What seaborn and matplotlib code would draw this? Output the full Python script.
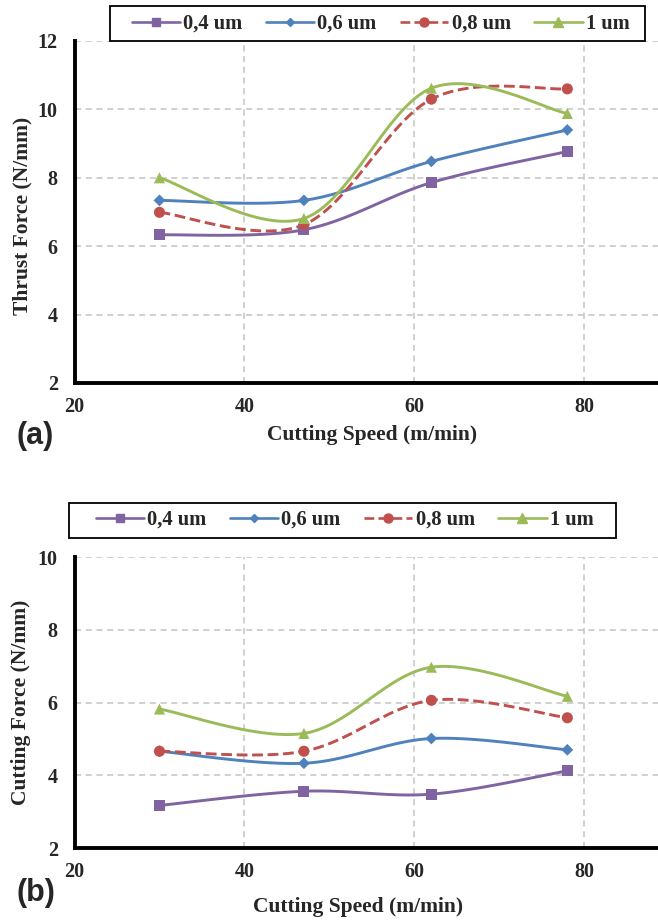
import numpy as np
import pandas as pd
import matplotlib
matplotlib.use("Agg")
import matplotlib.pyplot as plt
from matplotlib.lines import Line2D
from matplotlib.patches import Rectangle
import seaborn as sns

# ---- data -------------------------------------------------------------
speed = [30, 47, 62, 78]
series_names = ["0,4 um", "0,6 um", "0,8 um", "1 um"]

thrust_04 = [6.33, 6.48, 7.86, 8.77]
thrust_06 = [7.34, 7.34, 8.48, 9.40]
thrust_08 = [6.99, 6.63, 10.30, 10.60]
thrust_10 = [8.00, 6.81, 10.62, 9.88]

cutting_04 = [3.17, 3.56, 3.48, 4.12]
cutting_06 = [4.66, 4.33, 5.01, 4.70]
cutting_08 = [4.66, 4.66, 6.06, 5.58]
cutting_10 = [5.82, 5.15, 6.97, 6.17]

x_ticks = [20, 40, 60, 80]
thrust_yticks = [2, 4, 6, 8, 10, 12]
cutting_yticks = [2, 4, 6, 8, 10]

colors = ["#8064A2", "#4F81BD", "#C0504D", "#9BBB59"]
markers = ["s", "D", "o", "^"]
msizes = [8, 6, 8, 8]
legend_msizes = [6, 4.5, 6.5, 7]
dashes = ["-", "-", "--", "-"]

# ---- style ------------------------------------------------------------
sns.set_theme(style="white")
plt.rcParams["font.family"] = ["Liberation Serif", "DejaVu Serif"]
plt.rcParams["font.weight"] = "bold"


def smooth(xs, ys, n=40):
    """Catmull-Rom style Bezier smoothing through the points."""
    pts = np.column_stack([xs, ys]).astype(float)
    out = []
    m = len(pts)
    for i in range(m - 1):
        p0 = pts[i - 1] if i > 0 else pts[i]
        p1 = pts[i]
        p2 = pts[i + 1]
        p3 = pts[i + 2] if i + 2 < m else pts[i + 1]
        c1 = p1 + (p2 - p0) / 6.0
        c2 = p2 - (p3 - p1) / 6.0
        t = np.linspace(0, 1, n)[:, None]
        seg = ((1 - t) ** 3) * p1 + 3 * ((1 - t) ** 2) * t * c1 \
            + 3 * (1 - t) * t ** 2 * c2 + t ** 3 * p2
        out.append(seg if i == 0 else seg[1:])
    return np.vstack(out)


def draw_panel(ax, series, yticks):
    for name, ys, c, mk, ms, ls in zip(series_names, series, colors,
                                       markers, msizes, dashes):
        curve = smooth(speed, ys)
        df = pd.DataFrame({"x": curve[:, 0], "y": curve[:, 1]})
        sns.lineplot(data=df, x="x", y="y", ax=ax, sort=False,
                     estimator=None, color=c, lw=2.1, linestyle=ls,
                     zorder=3)
        pts = pd.DataFrame({"x": speed, "y": ys})
        sns.scatterplot(data=pts, x="x", y="y", ax=ax, color=c,
                        marker=mk, s=ms ** 2, edgecolor="none", zorder=4)
    ax.set_xlim(20, 88.67)
    ax.set_ylim(yticks[0], yticks[-1])
    ax.set_xticks(x_ticks)
    ax.set_yticks(yticks)
    ax.set_xticklabels([str(v) for v in x_ticks])
    ax.set_yticklabels([str(v) for v in yticks])
    for v in x_ticks[1:]:
        ax.axvline(v, color="#c4c4c4", lw=1.1, ls=(0, (4, 3)), zorder=1)
    for v in yticks[1:]:
        ax.axhline(v, color="#c4c4c4", lw=1.1, ls=(0, (4, 3)), zorder=1)
    for side in ["top", "right"]:
        ax.spines[side].set_visible(False)
    for side in ["left", "bottom"]:
        ax.spines[side].set_color("black")
        ax.spines[side].set_linewidth(2.8)
    ax.tick_params(axis="both", which="major", direction="out", length=4,
                   width=2.5, color="black", labelsize=14.5)
    ax.tick_params(axis="x", pad=6)
    ax.tick_params(axis="y", pad=8)
    for lab in ax.get_xticklabels() + ax.get_yticklabels():
        lab.set_fontweight("bold")
    ax.set_xlabel("")
    ax.set_ylabel("")


W, H = 658, 922
fig = plt.figure(figsize=(W / 100, H / 100), dpi=100)

AX_LEFT = 74.5
ax_a = fig.add_axes([AX_LEFT / W, 1 - 383 / H, 1 - AX_LEFT / W, (383 - 41) / H])
ax_b = fig.add_axes([AX_LEFT / W, 1 - 848 / H, 1 - AX_LEFT / W, (848 - 557) / H])

draw_panel(ax_a, [thrust_04, thrust_06, thrust_08, thrust_10], thrust_yticks)
draw_panel(ax_b, [cutting_04, cutting_06, cutting_08, cutting_10],
           cutting_yticks)

# axis titles
fig.text(372 / W, 1 - 435 / H, "Cutting Speed (m/min)", ha="center",
         va="center", fontsize=15.5, fontweight="bold")
fig.text(358 / W, 1 - 907 / H, "Cutting Speed (m/min)", ha="center",
         va="center", fontsize=15.5, fontweight="bold")
fig.text(22 / W, 1 - 216 / H, "Thrust Force (N/mm)", ha="center",
         va="center", rotation=90, fontsize=15.5, fontweight="bold")
fig.text(21 / W, 1 - 702 / H, "Cutting Force (N/mm)", ha="center",
         va="center", rotation=90, fontsize=15.5, fontweight="bold")

# panel letters
fig.text(16 / W, 1 - 436 / H, "(a)", ha="left", va="center", fontsize=22,
         fontweight="bold", family=["Liberation Sans", "DejaVu Sans"])
fig.text(16 / W, 1 - 893 / H, "(b)", ha="left", va="center", fontsize=22,
         fontweight="bold", family=["Liberation Sans", "DejaVu Sans"])

# legends: entries centred in a plain black box
handles = [Line2D([0], [0], color=c, lw=1.9, ls=ls, marker=mk,
                  markersize=ms, markeredgecolor=c)
           for c, mk, ms, ls in zip(colors, markers, legend_msizes, dashes)]
legend_boxes = [
    # (x0, y0, x1, y1) in pixels, text centre (cx, cy)
    ((110, 6, 645, 41), (380.5, 24)),
    ((69, 503, 616, 538), (344.5, 520)),
]
for (x0, y0, x1, y1), (cx, cy) in legend_boxes:
    fig.legend(handles, series_names, loc="center",
               bbox_to_anchor=(cx / W, 1 - cy / H), ncol=4,
               frameon=False, prop={"weight": "bold", "size": 14.8},
               handlelength=2.35, handletextpad=0.15,
               columnspacing=1.15, borderpad=0.0)
    fig.patches.append(Rectangle((x0 / W, 1 - y1 / H), (x1 - x0) / W,
                                 (y1 - y0) / H, transform=fig.transFigure,
                                 fill=True, facecolor="white",
                                 edgecolor="black", lw=1.3, zorder=0.5))

fig.savefig("out.png", dpi=100)
